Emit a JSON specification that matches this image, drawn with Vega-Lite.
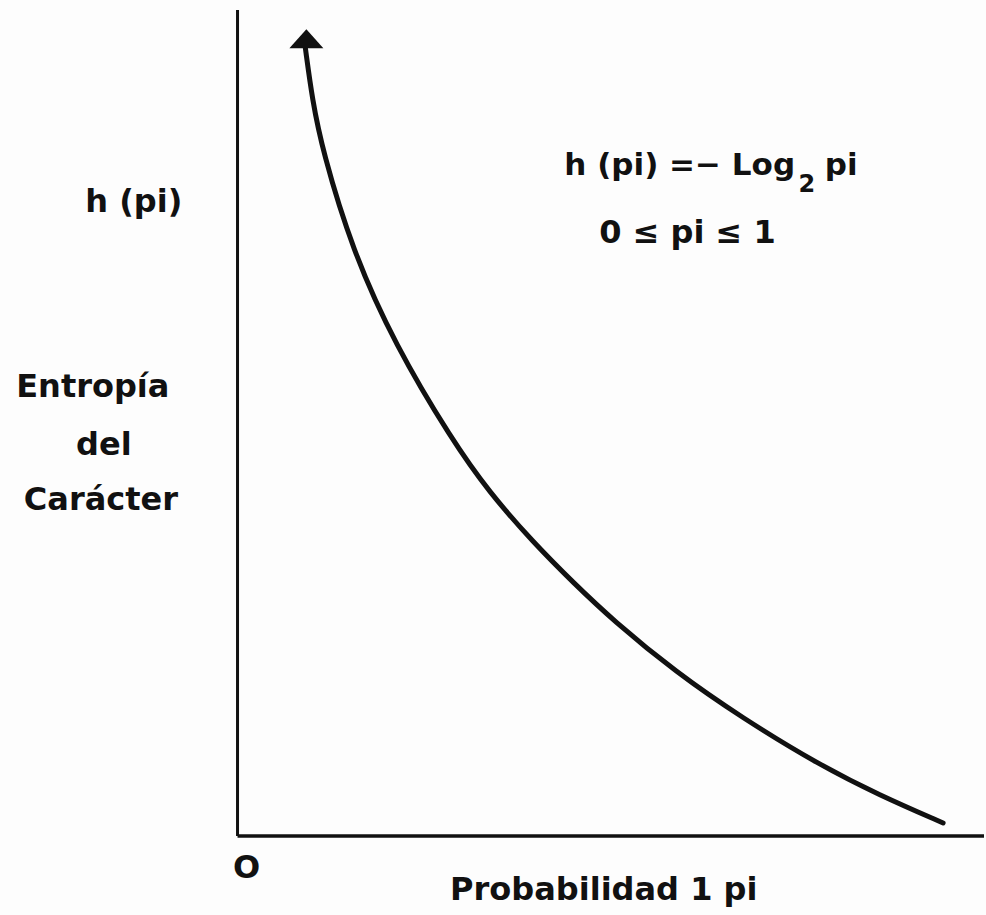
{
  "$schema": "https://vega.github.io/schema/vega-lite/v6.json",
  "width": 986,
  "height": 915,
  "autosize": {"type": "fit", "contains": "padding"},
  "padding": 0,
  "background": "#fdfdfd",
  "config": {"view": {"stroke": null}},
  "datasets": {
    "curve": [
      {"p": 0.0959, "h": 3.502},
      {"p": 0.1058, "h": 3.271},
      {"p": 0.1199, "h": 3.049},
      {"p": 0.1622, "h": 2.604},
      {"p": 0.2228, "h": 2.182},
      {"p": 0.3032, "h": 1.760},
      {"p": 0.3554, "h": 1.529},
      {"p": 0.4189, "h": 1.302},
      {"p": 0.4753, "h": 1.124},
      {"p": 0.5303, "h": 0.960},
      {"p": 0.6192, "h": 0.729},
      {"p": 0.7137, "h": 0.524},
      {"p": 0.8223, "h": 0.316},
      {"p": 0.9069, "h": 0.182},
      {"p": 0.9972, "h": 0.058}
    ],
    "arrow": [{"p": 0.0973, "h": 3.544}],
    "yaxis": [{"p": 0, "h": 3.671, "h2": 0}],
    "xaxis": [{"p": 0, "p2": 1.055, "h": 0}],
    "labels": [
      {"p": -0.1467, "h": 2.773, "label": "h (pi)"},
      {"p": -0.2045, "h": 1.951, "label": "Entropía"},
      {"p": -0.189, "h": 1.693, "label": "del"},
      {"p": -0.193, "h": 1.449, "label": "Carácter"},
      {"p": 0.636, "h": 2.636, "label": "0 ≤ pi ≤ 1"},
      {"p": 0.0127, "h": -0.187, "label": "O"},
      {"p": 0.5176, "h": -0.284, "label": "Probabilidad 1 pi"}
    ],
    "formula": [{"p": 0.788, "h": 2.938, "label": "h (pi) =− Log"}],
    "formulaSub": [{"p": 0.7927, "h": 2.862, "label": "2"}],
    "formulaEnd": [{"p": 0.830, "h": 2.938, "label": "pi"}]
  },
  "layer": [
    {
      "data": {"name": "yaxis"},
      "mark": {"type": "rule", "color": "#111", "strokeWidth": 3},
      "encoding": {
        "x": {"field": "p", "type": "quantitative", "scale": {"domain": [-0.3357, 1.055], "nice": false, "zero": false}, "axis": null},
        "y": {"field": "h", "type": "quantitative", "scale": {"domain": [-0.351, 3.716], "nice": false, "zero": false}, "axis": null},
        "y2": {"field": "h2"}
      }
    },
    {
      "data": {"name": "xaxis"},
      "mark": {"type": "rule", "color": "#111", "strokeWidth": 3.5},
      "encoding": {
        "x": {"field": "p", "type": "quantitative"},
        "x2": {"field": "p2"},
        "y": {"field": "h", "type": "quantitative"}
      }
    },
    {
      "data": {"name": "curve"},
      "mark": {"type": "line", "color": "#111", "strokeWidth": 5, "strokeCap": "round", "interpolate": "basis"},
      "encoding": {
        "x": {"field": "p", "type": "quantitative"},
        "y": {"field": "h", "type": "quantitative"},
        "order": {"field": "p", "type": "quantitative"}
      }
    },
    {
      "data": {"name": "arrow"},
      "mark": {"type": "point", "shape": "M0,-0.56L1,0.56L-1,0.56Z", "size": 1156, "filled": true, "color": "#111", "opacity": 1},
      "encoding": {
        "x": {"field": "p", "type": "quantitative"},
        "y": {"field": "h", "type": "quantitative"}
      }
    },
    {
      "data": {"name": "labels"},
      "mark": {"type": "text", "align": "center", "baseline": "alphabetic", "font": "DejaVu Sans", "fontWeight": "bold", "fontSize": 32, "color": "#111"},
      "encoding": {
        "x": {"field": "p", "type": "quantitative"},
        "y": {"field": "h", "type": "quantitative"},
        "text": {"field": "label"}
      }
    },
    {
      "data": {"name": "formula"},
      "mark": {"type": "text", "align": "right", "baseline": "alphabetic", "font": "DejaVu Sans", "fontWeight": "bold", "fontSize": 31, "color": "#111"},
      "encoding": {
        "x": {"field": "p", "type": "quantitative"},
        "y": {"field": "h", "type": "quantitative"},
        "text": {"field": "label"}
      }
    },
    {
      "data": {"name": "formulaSub"},
      "mark": {"type": "text", "align": "left", "baseline": "alphabetic", "font": "DejaVu Sans", "fontWeight": "bold", "fontSize": 24, "color": "#111"},
      "encoding": {
        "x": {"field": "p", "type": "quantitative"},
        "y": {"field": "h", "type": "quantitative"},
        "text": {"field": "label"}
      }
    },
    {
      "data": {"name": "formulaEnd"},
      "mark": {"type": "text", "align": "left", "baseline": "alphabetic", "font": "DejaVu Sans", "fontWeight": "bold", "fontSize": 31, "color": "#111"},
      "encoding": {
        "x": {"field": "p", "type": "quantitative"},
        "y": {"field": "h", "type": "quantitative"},
        "text": {"field": "label"}
      }
    }
  ]
}
